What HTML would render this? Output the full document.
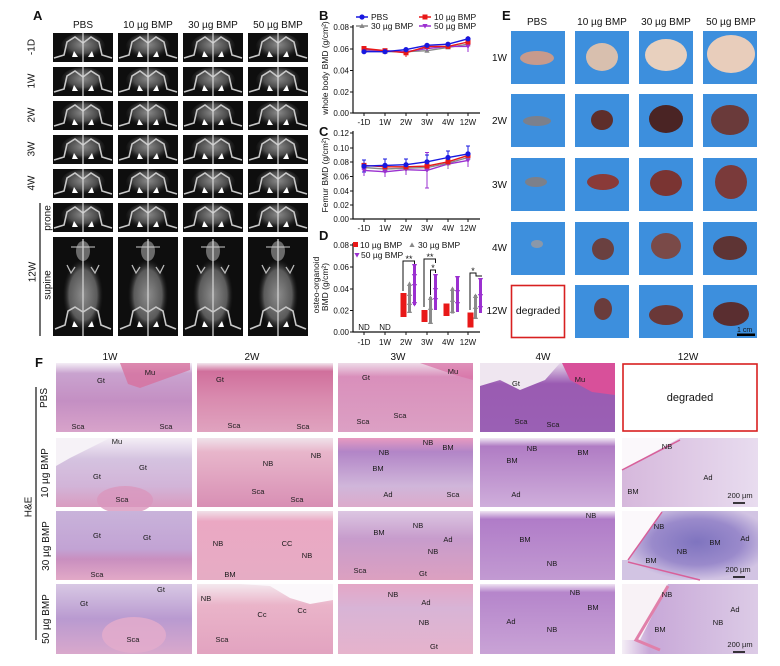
<!DOCTYPE html>
<html><head><meta charset="utf-8"><style>
html,body{margin:0;padding:0;background:#fff}
svg{display:block}
text{font-family:"Liberation Sans",Arial,sans-serif;fill:#111}
.h{font-size:10px;text-anchor:middle}
.t{font-size:8px;text-anchor:end}
.x{font-size:8px;text-anchor:middle}
.L{font-size:13px;font-weight:bold}
.lab{font-size:7.5px;text-anchor:middle;fill:#1a1a1a}
</style></head><body>
<svg width="780" height="666" viewBox="0 0 780 666" xmlns="http://www.w3.org/2000/svg">
<defs>
<radialGradient id="rg" cx="50%" cy="45%" r="55%"><stop offset="0" stop-color="#8a8a8a"/><stop offset="0.6" stop-color="#4a4a4a"/><stop offset="1" stop-color="#111" stop-opacity="0"/></radialGradient>
<radialGradient id="rgs" cx="50%" cy="50%" r="50%"><stop offset="0" stop-color="#8c8c8c"/><stop offset="0.7" stop-color="#5a5a5a"/><stop offset="1" stop-color="#222" stop-opacity="0"/></radialGradient>
<g id="xr">
<rect width="60" height="29" fill="#0e0e0e"/>
<ellipse cx="30" cy="13" rx="22" ry="13" fill="url(#rg)"/>
<path d="M1,25 L11,22 L14,9 L22,4 L30,10 L38,4 L46,9 L49,22 L59,25" fill="none" stroke="#c8c8c8" stroke-width="1.6"/>
<line x1="30" y1="0" x2="30" y2="29" stroke="#d8d8d8" stroke-width="1.2"/>
<path d="M21,18 L25,24 L19,24Z M39,18 L35,24 L41,24Z" fill="#fff"/>
</g>
<g id="xs">
<rect width="60" height="99" fill="#0e0e0e"/>
<ellipse cx="30" cy="58" rx="20" ry="36" fill="url(#rgs)"/>
<ellipse cx="30" cy="14" rx="7" ry="10" fill="#6a6a6a"/>
<line x1="30" y1="2" x2="30" y2="99" stroke="#d0d0d0" stroke-width="1.3"/>
<line x1="18" y1="10" x2="42" y2="10" stroke="#ccc" stroke-width="1"/>
<path d="M14,28 L18,36 L22,30 M46,28 L42,36 L38,30" fill="none" stroke="#bbb" stroke-width="1.3"/>
<path d="M2,92 L12,88 L15,74 L22,70 L30,75 L38,70 L45,74 L48,88 L58,92" fill="none" stroke="#c8c8c8" stroke-width="1.6"/>
<path d="M21,84 L25,90 L19,90Z M39,84 L35,90 L41,90Z" fill="#fff"/>
</g>
<path id="tu" d="M0,-2.6 L2.6,2 L-2.6,2Z"/>
<path id="td" d="M0,2.6 L2.6,-2 L-2.6,-2Z"/>
<!-- histology gradients -->
<linearGradient id="p1" x1="0" y1="0" x2="0" y2="1"><stop offset="0" stop-color="#f4eef6"/><stop offset="0.15" stop-color="#c9a3cf"/><stop offset="0.55" stop-color="#c48fc3"/><stop offset="1" stop-color="#d8a3ca"/></linearGradient>
<linearGradient id="p2" x1="0" y1="0" x2="0" y2="1"><stop offset="0" stop-color="#f2e6ee"/><stop offset="0.12" stop-color="#d0709c"/><stop offset="0.5" stop-color="#d98aae"/><stop offset="1" stop-color="#e0a3bf"/></linearGradient>
<linearGradient id="p3" x1="0" y1="0" x2="0" y2="1"><stop offset="0" stop-color="#eedbe8"/><stop offset="0.2" stop-color="#d98fbb"/><stop offset="1" stop-color="#dca0c4"/></linearGradient>
<linearGradient id="p4" x1="0" y1="0" x2="0" y2="1"><stop offset="0" stop-color="#e6d8ea"/><stop offset="0.3" stop-color="#9a5bb2"/><stop offset="1" stop-color="#9a60b4"/></linearGradient>
<linearGradient id="a1" x1="0" y1="0" x2="0" y2="1"><stop offset="0" stop-color="#f4eef6"/><stop offset="0.3" stop-color="#d5c3e0"/><stop offset="0.7" stop-color="#d2b4d8"/><stop offset="1" stop-color="#d99cc0"/></linearGradient>
<linearGradient id="a2" x1="0" y1="0" x2="0" y2="1"><stop offset="0" stop-color="#f0e2ea"/><stop offset="0.2" stop-color="#e8b6cb"/><stop offset="1" stop-color="#d88fb4"/></linearGradient>
<linearGradient id="a3" x1="0" y1="0" x2="0" y2="1"><stop offset="0" stop-color="#e79ac0"/><stop offset="0.2" stop-color="#b285c7"/><stop offset="0.7" stop-color="#d0b6da"/><stop offset="1" stop-color="#dcaacb"/></linearGradient>
<linearGradient id="a4" x1="0" y1="0" x2="0" y2="1"><stop offset="0" stop-color="#f2eaf4"/><stop offset="0.12" stop-color="#b07cc4"/><stop offset="1" stop-color="#cfaedb"/></linearGradient>
<linearGradient id="a5" x1="0" y1="0" x2="1" y2="0"><stop offset="0" stop-color="#d6b8dc"/><stop offset="1" stop-color="#e8dcef"/></linearGradient>
<linearGradient id="b1" x1="0" y1="0" x2="0" y2="1"><stop offset="0" stop-color="#c9b3da"/><stop offset="0.55" stop-color="#c2a3d4"/><stop offset="0.7" stop-color="#c98fbf"/><stop offset="1" stop-color="#e2a9c7"/></linearGradient>
<linearGradient id="b2" x1="0" y1="0" x2="0" y2="1"><stop offset="0" stop-color="#f0e0e8"/><stop offset="0.15" stop-color="#eba8c3"/><stop offset="1" stop-color="#e6acc4"/></linearGradient>
<linearGradient id="b3" x1="0" y1="0" x2="0" y2="1"><stop offset="0" stop-color="#dcc6e2"/><stop offset="0.4" stop-color="#c79ccc"/><stop offset="1" stop-color="#dca0c0"/></linearGradient>
<linearGradient id="b4" x1="0" y1="0" x2="0" y2="1"><stop offset="0" stop-color="#efe4f2"/><stop offset="0.12" stop-color="#b07cc8"/><stop offset="1" stop-color="#c29ad2"/></linearGradient>
<radialGradient id="b5" cx="55%" cy="45%" r="55%"><stop offset="0" stop-color="#7f74bf"/><stop offset="0.6" stop-color="#9a8acb"/><stop offset="1" stop-color="#d2c4e3"/></radialGradient>
<linearGradient id="c1" x1="0" y1="0" x2="0" y2="1"><stop offset="0" stop-color="#d8c8e4"/><stop offset="0.5" stop-color="#b99ad0"/><stop offset="1" stop-color="#d9a8cc"/></linearGradient>
<linearGradient id="c2" x1="0" y1="0" x2="0" y2="1"><stop offset="0" stop-color="#f4e8ee"/><stop offset="0.3" stop-color="#eab4c9"/><stop offset="1" stop-color="#e2a3c0"/></linearGradient>
<linearGradient id="c3" x1="0" y1="0" x2="0" y2="1"><stop offset="0" stop-color="#e4a6c6"/><stop offset="0.35" stop-color="#d8b4d6"/><stop offset="1" stop-color="#e6b3cc"/></linearGradient>
<linearGradient id="c4" x1="0" y1="0" x2="0" y2="1"><stop offset="0" stop-color="#efe2f2"/><stop offset="0.12" stop-color="#b585cb"/><stop offset="1" stop-color="#c9a3d6"/></linearGradient>
<linearGradient id="c5" x1="0" y1="0" x2="1" y2="0"><stop offset="0" stop-color="#f4eef6"/><stop offset="0.2" stop-color="#c8a8d8"/><stop offset="1" stop-color="#dccbe6"/></linearGradient>
</defs>

<!-- ===== Panel A ===== -->
<text class="L" x="33" y="20">A</text>
<text class="h" x="83" y="28">PBS</text>
<text class="h" x="148" y="28">10 µg BMP</text>
<text class="h" x="213" y="28">30 µg BMP</text>
<text class="h" x="278" y="28">50 µg BMP</text>
<g font-size="10">
<text class="h" transform="rotate(-90 31 47)" x="31" y="47" dy="3.5">-1D</text>
<text class="h" transform="rotate(-90 31 81)" x="31" y="81" dy="3.5">1W</text>
<text class="h" transform="rotate(-90 31 115)" x="31" y="115" dy="3.5">2W</text>
<text class="h" transform="rotate(-90 31 149)" x="31" y="149" dy="3.5">3W</text>
<text class="h" transform="rotate(-90 31 183)" x="31" y="183" dy="3.5">4W</text>
<text class="h" transform="rotate(-90 32 272)" x="32" y="272" dy="3.5">12W</text>
<text class="h" transform="rotate(-90 47 218)" x="47" y="218" dy="3.5">prone</text>
<text class="h" transform="rotate(-90 47 285)" x="47" y="285" dy="3.5">supine</text>
</g>
<line x1="40" y1="203" x2="40" y2="336" stroke="#111" stroke-width="1.2"/>
<g>
<use href="#xr" x="53" y="33"/><use href="#xr" x="118" y="33"/><use href="#xr" x="183" y="33"/><use href="#xr" x="248" y="33"/>
<use href="#xr" x="53" y="67"/><use href="#xr" x="118" y="67"/><use href="#xr" x="183" y="67"/><use href="#xr" x="248" y="67"/>
<use href="#xr" x="53" y="101"/><use href="#xr" x="118" y="101"/><use href="#xr" x="183" y="101"/><use href="#xr" x="248" y="101"/>
<use href="#xr" x="53" y="135"/><use href="#xr" x="118" y="135"/><use href="#xr" x="183" y="135"/><use href="#xr" x="248" y="135"/>
<use href="#xr" x="53" y="169"/><use href="#xr" x="118" y="169"/><use href="#xr" x="183" y="169"/><use href="#xr" x="248" y="169"/>
<use href="#xr" x="53" y="203"/><use href="#xr" x="118" y="203"/><use href="#xr" x="183" y="203"/><use href="#xr" x="248" y="203"/>
<use href="#xs" x="53" y="237"/><use href="#xs" x="118" y="237"/><use href="#xs" x="183" y="237"/><use href="#xs" x="248" y="237"/>
</g>

<!-- ===== Panel B ===== -->
<text class="L" x="319" y="20">B</text>
<text font-size="8.5" text-anchor="middle" transform="rotate(-90 325 68)" x="325" y="68" dy="3">whole body BMD (g/cm²)</text>
<path d="M353,25 V113 H480" fill="none" stroke="#111" stroke-width="1.2"/>
<path d="M350,27H353M350,49H353M350,70.5H353M350,92H353M350,113H353M364,113V116M385,113V116M406,113V116M427,113V116M448,113V116M468,113V116" stroke="#111" stroke-width="1"/>
<text class="t" x="349" y="30">0.08</text><text class="t" x="349" y="52">0.06</text><text class="t" x="349" y="73.5">0.04</text><text class="t" x="349" y="95">0.02</text><text class="t" x="349" y="116">0.00</text>
<g class="x"><text class="x" x="364" y="125">-1D</text><text class="x" x="385" y="125">1W</text><text class="x" x="406" y="125">2W</text><text class="x" x="427" y="125">3W</text><text class="x" x="448" y="125">4W</text><text class="x" x="468" y="125">12W</text></g>
<!-- legend B -->
<line x1="356" y1="17" x2="368" y2="17" stroke="#1818e0" stroke-width="1.5"/><circle cx="362" cy="17" r="2.6" fill="#1818e0"/>
<text font-size="8.5" x="371" y="20">PBS</text>
<line x1="419" y1="17" x2="431" y2="17" stroke="#e81818" stroke-width="1.5"/><rect x="422.5" y="14.5" width="5" height="5" fill="#e81818"/>
<text font-size="8.5" x="434" y="20">10 µg BMP</text>
<line x1="356" y1="26" x2="368" y2="26" stroke="#888" stroke-width="1.5"/><use href="#tu" x="362" y="26" fill="#888"/>
<text font-size="8.5" x="371" y="29">30 µg BMP</text>
<line x1="419" y1="26" x2="431" y2="26" stroke="#9b30d0" stroke-width="1.5"/><use href="#td" x="425" y="26" fill="#9b30d0"/>
<text font-size="8.5" x="434" y="29">50 µg BMP</text>
<!-- series B -->
<g fill="none" stroke-width="1.4">
<polyline points="364,50.7 385,51.7 406,51.7 427,50.7 448,47.4 468,44.2" stroke="#888"/>
<polyline points="364,49.6 385,50.7 406,51.7 427,48.5 448,46.4 468,46.4" stroke="#9b30d0"/>
<polyline points="364,48.5 385,50.7 406,52.8 427,46.4 448,46.4 468,42" stroke="#e81818"/>
<polyline points="364,51.7 385,51.7 406,49.6 427,45.3 448,44.2 468,38.8" stroke="#1818e0"/>
</g>
<path d="M406,48V57M468,36V50M427,43V48" stroke="#e81818" stroke-width="1"/>
<path d="M468,42V52" stroke="#9b30d0" stroke-width="1"/>
<g fill="#888"><use href="#tu" x="364" y="50.7"/><use href="#tu" x="385" y="51.7"/><use href="#tu" x="406" y="51.7"/><use href="#tu" x="427" y="50.7"/><use href="#tu" x="448" y="47.4"/><use href="#tu" x="468" y="44.2"/></g>
<g fill="#9b30d0"><use href="#td" x="364" y="49.6"/><use href="#td" x="385" y="50.7"/><use href="#td" x="406" y="51.7"/><use href="#td" x="427" y="48.5"/><use href="#td" x="448" y="46.4"/><use href="#td" x="468" y="46.4"/></g>
<g fill="#e81818"><rect x="361.5" y="46" width="5" height="5"/><rect x="382.5" y="48.2" width="5" height="5"/><rect x="403.5" y="50.3" width="5" height="5"/><rect x="424.5" y="43.9" width="5" height="5"/><rect x="445.5" y="43.9" width="5" height="5"/><rect x="465.5" y="39.5" width="5" height="5"/></g>
<g fill="#1818e0"><circle cx="364" cy="51.7" r="2.6"/><circle cx="385" cy="51.7" r="2.6"/><circle cx="406" cy="49.6" r="2.6"/><circle cx="427" cy="45.3" r="2.6"/><circle cx="448" cy="44.2" r="2.6"/><circle cx="468" cy="38.8" r="2.6"/></g>

<!-- ===== Panel C ===== -->
<text class="L" x="319" y="136">C</text>
<text font-size="8.5" text-anchor="middle" transform="rotate(-90 325 175)" x="325" y="175" dy="3">Femur BMD (g/cm²)</text>
<path d="M353,131 V219 H480" fill="none" stroke="#111" stroke-width="1.2"/>
<path d="M350,133H353M350,148H353M350,162H353M350,176.5H353M350,191H353M350,205H353M350,219H353M364,219V222M385,219V222M406,219V222M427,219V222M448,219V222M468,219V222" stroke="#111" stroke-width="1"/>
<text class="t" x="349" y="136">0.12</text><text class="t" x="349" y="151">0.10</text><text class="t" x="349" y="165">0.08</text><text class="t" x="349" y="179.5">0.06</text><text class="t" x="349" y="194">0.04</text><text class="t" x="349" y="208">0.02</text><text class="t" x="349" y="222">0.00</text>
<text class="x" x="364" y="231">-1D</text><text class="x" x="385" y="231">1W</text><text class="x" x="406" y="231">2W</text><text class="x" x="427" y="231">3W</text><text class="x" x="448" y="231">4W</text><text class="x" x="468" y="231">12W</text>
<!-- error bars C -->
<path d="M364,165V176M385,166V177M406,164V175M427,152.5V188M448,160V169M468,155V167M425,152.5H429M425,188H429" stroke="#9b30d0" stroke-width="1"/>
<path d="M364,161V170M385,162V172M406,162V172M427,162V173M448,158V168M468,151V162" stroke="#888" stroke-width="1"/>
<path d="M364,161V170M385,162V171M406,162V171M427,161V171M448,157V166M468,150V161" stroke="#e81818" stroke-width="1"/>
<path d="M364,160V172M385,159V172M406,159V171M427,155V169M448,151V164M468,146V162M362,160H366M362,172H366M383,159H387M383,172H387M404,159H408M425,155H429M446,151H450M466,146H470" stroke="#1818e0" stroke-width="1"/>
<g fill="none" stroke-width="1.4">
<polyline points="364,167.5 385,169 406,168.2 427,167.5 448,163.2 468,157.5" stroke="#888"/>
<polyline points="364,170.4 385,171.8 406,169.7 427,170.4 448,164 468,160.4" stroke="#9b30d0"/>
<polyline points="364,165.4 385,166.8 406,166.8 427,166.1 448,161.8 468,155.4" stroke="#e81818"/>
<polyline points="364,166.1 385,165.4 406,164.7 427,161.8 448,157.5 468,153.9" stroke="#1818e0"/>
</g>
<g fill="#888"><use href="#tu" x="364" y="167.5"/><use href="#tu" x="385" y="169"/><use href="#tu" x="406" y="168.2"/><use href="#tu" x="427" y="167.5"/><use href="#tu" x="448" y="163.2"/><use href="#tu" x="468" y="157.5"/></g>
<g fill="#9b30d0"><use href="#td" x="364" y="170.4"/><use href="#td" x="385" y="171.8"/><use href="#td" x="406" y="169.7"/><use href="#td" x="427" y="170.4"/><use href="#td" x="448" y="164"/><use href="#td" x="468" y="160.4"/></g>
<g fill="#e81818"><rect x="361.5" y="162.9" width="5" height="5"/><rect x="382.5" y="164.3" width="5" height="5"/><rect x="403.5" y="164.3" width="5" height="5"/><rect x="424.5" y="163.6" width="5" height="5"/><rect x="445.5" y="159.3" width="5" height="5"/><rect x="465.5" y="152.9" width="5" height="5"/></g>
<g fill="#1818e0"><circle cx="364" cy="166.1" r="2.6"/><circle cx="385" cy="165.4" r="2.6"/><circle cx="406" cy="164.7" r="2.6"/><circle cx="427" cy="161.8" r="2.6"/><circle cx="448" cy="157.5" r="2.6"/><circle cx="468" cy="153.9" r="2.6"/></g>

<!-- ===== Panel D ===== -->
<text class="L" x="319" y="240">D</text>
<text font-size="8.5" text-anchor="middle" transform="rotate(-90 316 285)" x="316" y="285" dy="3">osteo-organoid</text>
<text font-size="8.5" text-anchor="middle" transform="rotate(-90 325 287)" x="325" y="287" dy="3">BMD (g/cm²)</text>
<path d="M353,243 V332 H480" fill="none" stroke="#111" stroke-width="1.2"/>
<path d="M350,245H353M350,267H353M350,289H353M350,310.5H353M350,332H353M364,332V335M385,332V335M406,332V335M427,332V335M448,332V335M468,332V335" stroke="#111" stroke-width="1"/>
<text class="t" x="349" y="248">0.08</text><text class="t" x="349" y="270">0.06</text><text class="t" x="349" y="292">0.04</text><text class="t" x="349" y="313.5">0.02</text><text class="t" x="349" y="335">0.00</text>
<text class="x" x="364" y="345">-1D</text><text class="x" x="385" y="345">1W</text><text class="x" x="406" y="345">2W</text><text class="x" x="427" y="345">3W</text><text class="x" x="448" y="345">4W</text><text class="x" x="468" y="345">12W</text>
<text font-size="8" text-anchor="middle" x="364" y="330">ND</text><text font-size="8" text-anchor="middle" x="385" y="330">ND</text>
<!-- legend D -->
<rect x="353" y="242" width="5" height="5" fill="#e81818"/><text font-size="8.5" x="360" y="248">10 µg BMP</text>
<use href="#tu" x="412" y="245" fill="#888"/><text font-size="8.5" x="418" y="248">30 µg BMP</text>
<use href="#td" x="357" y="255" fill="#9b30d0"/><text font-size="8.5" x="361" y="258">50 µg BMP</text>
<!-- scatter -->
<g fill="#e81818">
<rect x="400.5" y="293" width="6" height="24"/><rect x="421.5" y="310" width="6" height="12"/><rect x="443.5" y="303.5" width="6" height="12.5"/><rect x="467.5" y="312.5" width="6" height="15"/>
</g>
<g fill="#8a8a8a">
<rect x="408" y="284" width="3" height="28"/><rect x="429" y="297" width="3" height="26"/><rect x="451" y="288.5" width="3" height="25"/><rect x="474" y="295" width="3" height="24"/>
<use href="#tu" x="409.5" y="284"/><use href="#tu" x="409.5" y="294"/><use href="#tu" x="409.5" y="303"/><use href="#tu" x="409.5" y="311"/>
<use href="#tu" x="430.5" y="298"/><use href="#tu" x="430.5" y="308"/><use href="#tu" x="430.5" y="322"/>
<use href="#tu" x="452.5" y="289"/><use href="#tu" x="452.5" y="300"/><use href="#tu" x="452.5" y="311"/>
<use href="#tu" x="475.5" y="296"/><use href="#tu" x="475.5" y="307"/><use href="#tu" x="475.5" y="317"/>
</g>
<g fill="#9b30d0">
<rect x="413" y="265" width="3" height="40"/><rect x="434" y="276" width="3" height="34"/><rect x="456" y="278" width="3" height="34"/><rect x="479" y="280" width="3" height="33"/>
<use href="#td" x="414.5" y="266"/><use href="#td" x="414.5" y="276"/><use href="#td" x="414.5" y="286"/><use href="#td" x="414.5" y="304"/>
<use href="#td" x="435.5" y="276"/><use href="#td" x="435.5" y="290"/><use href="#td" x="435.5" y="300"/>
<use href="#td" x="457.5" y="278"/><use href="#td" x="457.5" y="292"/><use href="#td" x="457.5" y="304"/>
<use href="#td" x="480.5" y="280"/><use href="#td" x="480.5" y="296"/><use href="#td" x="480.5" y="308"/>
</g>
<path d="M403,291V261H414.5V264 M424,307V259H435.5V263 M430.5,295V270H435.5V273 M470,310V273H476V276H482" fill="none" stroke="#111" stroke-width="1"/>
<text font-size="9" text-anchor="middle" x="409" y="262">**</text>
<text font-size="9" text-anchor="middle" x="430" y="260">**</text>
<text font-size="9" text-anchor="middle" x="433" y="271">*</text>
<text font-size="9" text-anchor="middle" x="473" y="274">*</text>

<!-- ===== Panel E ===== -->
<text class="L" x="502" y="20">E</text>
<text class="h" x="537" y="25">PBS</text>
<text class="h" x="602" y="25">10 µg BMP</text>
<text class="h" x="666" y="25">30 µg BMP</text>
<text class="h" x="731" y="25">50 µg BMP</text>
<g font-size="10" text-anchor="end">
<text x="507" y="61" text-anchor="end">1W</text>
<text x="507" y="124" text-anchor="end">2W</text>
<text x="507" y="188" text-anchor="end">3W</text>
<text x="507" y="251" text-anchor="end">4W</text>
<text x="507" y="314" text-anchor="end">12W</text>
</g>
<g fill="#3d8fdd">
<rect x="511" y="31" width="54" height="53"/><rect x="575" y="31" width="54" height="53"/><rect x="639" y="31" width="54" height="53"/><rect x="703" y="31" width="54" height="53"/>
<rect x="511" y="94" width="54" height="53"/><rect x="575" y="94" width="54" height="53"/><rect x="639" y="94" width="54" height="53"/><rect x="703" y="94" width="54" height="53"/>
<rect x="511" y="158" width="54" height="53"/><rect x="575" y="158" width="54" height="53"/><rect x="639" y="158" width="54" height="53"/><rect x="703" y="158" width="54" height="53"/>
<rect x="511" y="222" width="54" height="53"/><rect x="575" y="222" width="54" height="53"/><rect x="639" y="222" width="54" height="53"/><rect x="703" y="222" width="54" height="53"/>
<rect x="575" y="285" width="54" height="53"/><rect x="639" y="285" width="54" height="53"/><rect x="703" y="285" width="54" height="53"/>
</g>
<rect x="511.5" y="285.5" width="53" height="52" fill="#fff" stroke="#d82020" stroke-width="1.6"/>
<text font-size="10.5" text-anchor="middle" x="538" y="314">degraded</text>
<ellipse cx="537" cy="58" rx="17" ry="7" fill="#c79a8c"/>
<ellipse cx="602" cy="57" rx="16" ry="14" fill="#d8bfae"/>
<ellipse cx="666" cy="55" rx="21" ry="16" fill="#e8d0be"/>
<ellipse cx="731" cy="54" rx="24" ry="19" fill="#e8cdbb"/>
<ellipse cx="537" cy="121" rx="14" ry="5" fill="#7b808c"/>
<ellipse cx="602" cy="120" rx="11" ry="10" fill="#5e2e2a"/>
<ellipse cx="666" cy="119" rx="17" ry="14" fill="#4a2424"/>
<ellipse cx="730" cy="120" rx="19" ry="15" fill="#6a3a3a"/>
<ellipse cx="536" cy="182" rx="11" ry="5" fill="#7c808a"/>
<ellipse cx="603" cy="182" rx="16" ry="8" fill="#8a3a38"/>
<ellipse cx="666" cy="183" rx="16" ry="13" fill="#7a3432"/>
<ellipse cx="731" cy="182" rx="16" ry="17" fill="#7a3a3a"/>
<ellipse cx="537" cy="244" rx="6" ry="4" fill="#8a98aa"/>
<ellipse cx="603" cy="249" rx="11" ry="11" fill="#6a4040"/>
<ellipse cx="666" cy="246" rx="15" ry="13" fill="#7a4a48"/>
<ellipse cx="730" cy="248" rx="17" ry="12" fill="#5e3434"/>
<ellipse cx="603" cy="309" rx="9" ry="11" fill="#6a3c3c"/>
<ellipse cx="666" cy="315" rx="17" ry="10" fill="#6a3838"/>
<ellipse cx="731" cy="314" rx="18" ry="12" fill="#5a2e30"/>
<text font-size="7" x="737" y="332" fill="#000">1 cm</text>
<rect x="737" y="333.5" width="18" height="2.5" fill="#000"/>

<!-- ===== Panel F ===== -->
<text class="L" x="35" y="367">F</text>
<text class="h" x="110" y="360">1W</text>
<text class="h" x="252" y="360">2W</text>
<text class="h" x="398" y="360">3W</text>
<text class="h" x="543" y="360">4W</text>
<text class="h" x="688" y="360">12W</text>
<line x1="36" y1="387" x2="36" y2="640" stroke="#111" stroke-width="1.2"/>
<g font-size="9.5">
<text class="h" font-size="9.5" transform="rotate(-90 44 398)" x="44" y="398" dy="3">PBS</text>
<text class="h" font-size="9.5" transform="rotate(-90 45 473)" x="45" y="473" dy="3">10 µg BMP</text>
<text class="h" font-size="9.5" transform="rotate(-90 46 546)" x="46" y="546" dy="3">30 µg BMP</text>
<text class="h" font-size="9.5" transform="rotate(-90 46 619)" x="46" y="619" dy="3">50 µg BMP</text>
<text class="h" font-size="10" transform="rotate(-90 28 507)" x="28" y="507" dy="3.5">H&amp;E</text>
</g>
<!-- row PBS -->
<rect x="56" y="363" width="136" height="69" fill="url(#p1)"/>
<path d="M120,363 L190,363 L190,370 L140,388 L128,384Z" fill="#d7709e" opacity="0.8"/>
<rect x="197" y="363" width="136" height="69" fill="url(#p2)"/>
<rect x="338" y="363" width="135" height="69" fill="url(#p3)"/>
<path d="M420,363 L473,363 L473,380 L455,375Z" fill="#d870a5" opacity="0.7"/>
<rect x="480" y="363" width="135" height="69" fill="url(#p4)"/>
<path d="M480,363 L560,363 L545,380 L520,390 L500,380 L480,386Z" fill="#efe6f0"/>
<path d="M562,363 L615,363 L615,395 L592,392 L570,380Z" fill="#d8509a"/>
<rect x="623" y="364" width="134" height="67" fill="#fff" stroke="#d82020" stroke-width="1.6"/>
<text font-size="11" text-anchor="middle" x="690" y="401">degraded</text>
<!-- row 10 -->
<rect x="56" y="438" width="136" height="69" fill="url(#a1)"/>
<path d="M56,438 L110,438 L70,458 L56,466Z" fill="#f6f2f7"/>
<ellipse cx="125" cy="500" rx="28" ry="14" fill="#d996bd" opacity="0.8"/>
<rect x="197" y="438" width="136" height="69" fill="url(#a2)"/>
<rect x="338" y="438" width="135" height="69" fill="url(#a3)"/>
<rect x="480" y="438" width="135" height="69" fill="url(#a4)"/>
<rect x="622" y="438" width="136" height="69" fill="url(#a5)"/>
<path d="M622,438 L680,438 L640,460 L622,470Z" fill="#fbf8fb"/>
<path d="M622,470 L680,440" stroke="#d8609a" stroke-width="1.5"/>
<!-- row 30 -->
<rect x="56" y="511" width="136" height="69" fill="url(#b1)"/>
<rect x="197" y="511" width="136" height="69" fill="url(#b2)"/>
<rect x="338" y="511" width="135" height="69" fill="url(#b3)"/>
<rect x="480" y="511" width="135" height="69" fill="url(#b4)"/>
<rect x="622" y="511" width="136" height="69" fill="url(#b5)"/>
<path d="M622,511 L662,511 L628,560 L622,560Z" fill="#fbf8fb"/>
<path d="M628,560 L662,512 M628,562 L700,580" stroke="#d8609a" stroke-width="1.5" fill="none"/>
<!-- row 50 -->
<rect x="56" y="584" width="136" height="70" fill="url(#c1)"/>
<ellipse cx="134" cy="635" rx="32" ry="18" fill="#e3abcb" opacity="0.85"/>
<rect x="197" y="584" width="136" height="70" fill="url(#c2)"/>
<path d="M240,584 L333,584 L333,600 L310,604 L290,598 L270,586Z" fill="#fbf8fb"/>
<rect x="338" y="584" width="135" height="70" fill="url(#c3)"/>
<rect x="480" y="584" width="135" height="70" fill="url(#c4)"/>
<rect x="622" y="584" width="136" height="70" fill="url(#c5)"/>
<path d="M622,584 L668,584 L640,640 L622,640Z" fill="#f8f2f6"/>
<path d="M668,586 L636,640 L660,650" stroke="#e080aa" stroke-width="3" fill="none"/>
<!-- tile labels -->
<g class="lab">
<text class="lab" x="101" y="383">Gt</text><text class="lab" x="150" y="375">Mu</text><text class="lab" x="78" y="429">Sca</text><text class="lab" x="166" y="429">Sca</text>
<text class="lab" x="220" y="382">Gt</text><text class="lab" x="234" y="428">Sca</text><text class="lab" x="303" y="429">Sca</text>
<text class="lab" x="366" y="380">Gt</text><text class="lab" x="453" y="374">Mu</text><text class="lab" x="363" y="424">Sca</text><text class="lab" x="400" y="418">Sca</text>
<text class="lab" x="516" y="386">Gt</text><text class="lab" x="580" y="382">Mu</text><text class="lab" x="521" y="424">Sca</text><text class="lab" x="553" y="427">Sca</text>
<text class="lab" x="117" y="444">Mu</text><text class="lab" x="143" y="470">Gt</text><text class="lab" x="97" y="479">Gt</text><text class="lab" x="122" y="502">Sca</text>
<text class="lab" x="268" y="466">NB</text><text class="lab" x="316" y="458">NB</text><text class="lab" x="258" y="494">Sca</text><text class="lab" x="297" y="502">Sca</text>
<text class="lab" x="384" y="455">NB</text><text class="lab" x="428" y="445">NB</text><text class="lab" x="448" y="450">BM</text><text class="lab" x="378" y="471">BM</text><text class="lab" x="388" y="497">Ad</text><text class="lab" x="453" y="497">Sca</text>
<text class="lab" x="532" y="451">NB</text><text class="lab" x="512" y="463">BM</text><text class="lab" x="583" y="455">BM</text><text class="lab" x="516" y="497">Ad</text>
<text class="lab" x="667" y="449">NB</text><text class="lab" x="708" y="480">Ad</text><text class="lab" x="633" y="494">BM</text>
<text class="lab" x="740" y="498">200 µm</text>
<text class="lab" x="97" y="538">Gt</text><text class="lab" x="147" y="540">Gt</text><text class="lab" x="97" y="577">Sca</text>
<text class="lab" x="218" y="546">NB</text><text class="lab" x="287" y="546">CC</text><text class="lab" x="307" y="558">NB</text><text class="lab" x="230" y="577">BM</text>
<text class="lab" x="379" y="535">BM</text><text class="lab" x="418" y="528">NB</text><text class="lab" x="448" y="542">Ad</text><text class="lab" x="433" y="554">NB</text><text class="lab" x="423" y="576">Gt</text><text class="lab" x="360" y="573">Sca</text>
<text class="lab" x="591" y="518">NB</text><text class="lab" x="525" y="542">BM</text><text class="lab" x="552" y="566">NB</text>
<text class="lab" x="659" y="529">NB</text><text class="lab" x="715" y="545">BM</text><text class="lab" x="745" y="541">Ad</text><text class="lab" x="682" y="554">NB</text><text class="lab" x="651" y="563">BM</text>
<text class="lab" x="738" y="572">200 µm</text>
<text class="lab" x="84" y="606">Gt</text><text class="lab" x="161" y="592">Gt</text><text class="lab" x="133" y="642">Sca</text>
<text class="lab" x="206" y="601">NB</text><text class="lab" x="262" y="617">Cc</text><text class="lab" x="302" y="613">Cc</text><text class="lab" x="222" y="642">Sca</text>
<text class="lab" x="393" y="597">NB</text><text class="lab" x="426" y="605">Ad</text><text class="lab" x="424" y="625">NB</text><text class="lab" x="434" y="649">Gt</text>
<text class="lab" x="575" y="595">NB</text><text class="lab" x="593" y="610">BM</text><text class="lab" x="511" y="624">Ad</text><text class="lab" x="552" y="632">NB</text>
<text class="lab" x="667" y="597">NB</text><text class="lab" x="735" y="612">Ad</text><text class="lab" x="718" y="625">NB</text><text class="lab" x="660" y="632">BM</text>
<text class="lab" x="740" y="647">200 µm</text>
</g>
<path d="M733,503H745M733,577H745M733,652H745" stroke="#000" stroke-width="1.5"/>
</svg>
</body></html>
